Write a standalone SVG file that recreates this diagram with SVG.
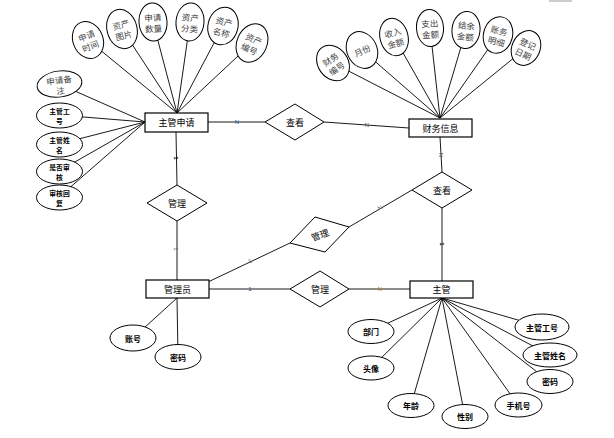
<svg xmlns="http://www.w3.org/2000/svg" width="614" height="438" viewBox="0 0 614 438">
<style>
.bg{fill:#fff}
.ln{stroke:#000;stroke-width:0.9;fill:none}
.box{fill:#fff;stroke:#000;stroke-width:1.2}
.dia{fill:#fff;stroke:#000;stroke-width:1}
.ell{fill:#fff;stroke:#000;stroke-width:1}
.t{font-family:"Noto Sans CJK SC","Liberation Sans",sans-serif;font-size:9px;fill:#000;text-anchor:middle;dominant-baseline:central}
.ts{font-family:"Noto Sans CJK SC","Liberation Sans",sans-serif;font-size:8.5px;fill:#444;text-anchor:middle;dominant-baseline:central}
.ta{font-family:"Noto Sans CJK SC","Liberation Sans",sans-serif;font-size:8px;fill:#000;text-anchor:middle;dominant-baseline:central;font-weight:bold}
.tl{font-family:"Noto Sans CJK SC","Liberation Sans",sans-serif;font-size:6.8px;fill:#000;text-anchor:middle;dominant-baseline:central;font-weight:bold}
.c{font-family:"Liberation Sans",sans-serif;font-size:6px;text-anchor:middle;dominant-baseline:central}
</style>
<rect class="bg" x="0" y="0" width="614" height="438"/>
<line x1="549" y1="1" x2="572" y2="1" stroke="#999" stroke-width="1"/>
<g id="connectors" class="ln">
  <line x1="177" y1="113" x2="88" y2="40"/>
  <line x1="177" y1="113" x2="122" y2="29"/>
  <line x1="177" y1="113" x2="153" y2="22"/>
  <line x1="177" y1="113" x2="190" y2="22"/>
  <line x1="177" y1="113" x2="223" y2="26"/>
  <line x1="177" y1="113" x2="252" y2="43"/>
  <line x1="145" y1="122" x2="59" y2="84"/>
  <line x1="145" y1="122" x2="59" y2="115"/>
  <line x1="145" y1="122" x2="59" y2="144"/>
  <line x1="145" y1="122" x2="59" y2="171"/>
  <line x1="145" y1="122" x2="59" y2="197"/>
  <line x1="440" y1="118" x2="333" y2="63"/>
  <line x1="440" y1="118" x2="362" y2="50"/>
  <line x1="440" y1="118" x2="394" y2="37"/>
  <line x1="440" y1="118" x2="430" y2="28"/>
  <line x1="440" y1="118" x2="466" y2="30"/>
  <line x1="440" y1="118" x2="498" y2="35"/>
  <line x1="440" y1="118" x2="526" y2="48"/>
  <line x1="177" y1="298" x2="133" y2="338"/>
  <line x1="177" y1="298" x2="178" y2="357"/>
  <line x1="442" y1="298" x2="371" y2="331"/>
  <line x1="442" y1="298" x2="371" y2="368"/>
  <line x1="442" y1="298" x2="411" y2="405"/>
  <line x1="442" y1="298" x2="465" y2="417"/>
  <line x1="442" y1="298" x2="518" y2="405"/>
  <line x1="442" y1="298" x2="550" y2="382"/>
  <line x1="442" y1="298" x2="550" y2="355"/>
  <line x1="442" y1="298" x2="542" y2="327"/>
  <line x1="208" y1="122" x2="265" y2="122"/>
  <line x1="324" y1="122" x2="409" y2="128"/>
  <line x1="440" y1="137" x2="442" y2="172"/>
  <line x1="442" y1="208" x2="442" y2="281"/>
  <line x1="349" y1="227" x2="412" y2="190"/>
  <line x1="290" y1="243" x2="208" y2="282"/>
  <line x1="176" y1="132" x2="177" y2="185"/>
  <line x1="177" y1="221" x2="177" y2="280"/>
  <line x1="209" y1="289" x2="290" y2="289"/>
  <line x1="349" y1="289" x2="410" y2="289"/>
</g>
<g id="cardinality">
  <text class="c" x="237" y="122" fill="#1f4e9a">N</text>
  <text class="c" x="367" y="125" fill="#555">N</text>
  <text class="c" transform="translate(441,155) rotate(90)" fill="#555">N</text>
  <text class="c" transform="translate(442,244) rotate(90)" fill="#000" font-weight="bold">1</text>
  <text class="c" transform="translate(176,158) rotate(90)" fill="#000" font-weight="bold">1</text>
  <text class="c" transform="translate(176,249) rotate(90)" fill="#555">1</text>
  <text class="c" transform="translate(380,208) rotate(-30)" fill="#777">N</text>
  <text class="c" transform="translate(250,261) rotate(-25)" fill="#555">1</text>
  <text class="c" x="250" y="289" fill="#1f4e9a">1</text>
  <text class="c" x="380" y="289" fill="#c07000">N</text>
</g>
<g id="zhuguanshenqing"><rect class="box" x="145" y="113" width="63" height="19"/><text class="t" x="176.5" y="122.5">主管申请</text></g>
<g id="caiwuxinxi"><rect class="box" x="409" y="119" width="63" height="18"/><text class="t" x="440.5" y="128">财务信息</text></g>
<g id="guanliyuan"><rect class="box" x="146" y="280" width="63" height="18"/><text class="t" x="177.5" y="289">管理员</text></g>
<g id="zhuguan"><rect class="box" x="410" y="281" width="63" height="17"/><text class="t" x="441.5" y="289.5">主管</text></g>
<g id="chakan1"><polygon class="dia" points="265,122 295,104 324,122 295,140"/><text class="t" x="295" y="122">查看</text></g>
<g id="chakan2"><polygon class="dia" points="412,190 442,172 472,190 442,208"/><text class="t" x="442" y="190">查看</text></g>
<g id="guanli1"><polygon class="dia" points="147,203 177,185 207,203 177,221"/><text class="t" x="177" y="203">管理</text></g>
<g id="guanli2"><polygon class="dia" points="290,289 320,271 349,289 320,307"/><text class="t" x="320" y="289">管理</text></g>
<g id="guanli3"><polygon class="dia" points="290,243 315,217 349,227 325,252" stroke="#222"/><text class="t" transform="translate(320,235) rotate(-20)" fill="#777">管理</text></g>
<g id="a-sqsj" transform="translate(88,40) rotate(-22)"><ellipse class="ell" rx="15" ry="19"/><text class="ts" y="-5">申请</text><text class="ts" y="6">时间</text></g>
<g id="a-zctp" transform="translate(122,29) rotate(-15)"><ellipse class="ell" rx="15" ry="20"/><text class="ts" y="-5">资产</text><text class="ts" y="6">图片</text></g>
<g id="a-sqsl" transform="translate(153,22) rotate(-4)"><ellipse class="ell" rx="14" ry="19"/><text class="ts" y="-5">申请</text><text class="ts" y="6">数量</text></g>
<g id="a-zcfl" transform="translate(190,22) rotate(5)"><ellipse class="ell" rx="14" ry="19"/><text class="ts" y="-5">资产</text><text class="ts" y="6">分类</text></g>
<g id="a-zcmc" transform="translate(223,26) rotate(14)"><ellipse class="ell" rx="15" ry="19"/><text class="ts" y="-5">资产</text><text class="ts" y="6">名称</text></g>
<g id="a-zcbh" transform="translate(252,43) rotate(24)"><ellipse class="ell" rx="15" ry="20"/><text class="ts" y="-5">资产</text><text class="ts" y="6">编号</text></g>
<g id="a-sqbz" transform="translate(59.5,84) rotate(-8)"><ellipse class="ell" rx="22.5" ry="13"/><text class="ts" y="-4.5">申请备</text><text class="ts" y="6">注</text></g>
<g id="a-zggh1"><ellipse class="ell" cx="59.5" cy="115.5" rx="23" ry="12.5"/><text class="tl" x="59.5" y="110.5">主管工</text><text class="tl" x="59.5" y="120.5">号</text></g>
<g id="a-zgxm1"><ellipse class="ell" cx="59.5" cy="144.5" rx="23" ry="12.5"/><text class="tl" x="59.5" y="139.5">主管姓</text><text class="tl" x="59.5" y="149.5">名</text></g>
<g id="a-sfsh"><ellipse class="ell" cx="59.5" cy="171.5" rx="23" ry="12.5"/><text class="tl" x="59.5" y="166.5">是否审</text><text class="tl" x="59.5" y="176.5">核</text></g>
<g id="a-shhf"><ellipse class="ell" cx="59.5" cy="197.5" rx="23" ry="12.5"/><text class="tl" x="59.5" y="192.5">审核回</text><text class="tl" x="59.5" y="202.5">复</text></g>
<g id="a-cwbh" transform="translate(333,63) rotate(-35)"><ellipse class="ell" rx="15" ry="19"/><text class="ts" y="-5">财务</text><text class="ts" y="6">编号</text></g>
<g id="a-yf" transform="translate(362,50) rotate(-25)"><ellipse class="ell" rx="15" ry="19"/><text class="ts" y="0">月份</text></g>
<g id="a-srje" transform="translate(394,37) rotate(-15)"><ellipse class="ell" rx="14" ry="19"/><text class="ts" y="-5">收入</text><text class="ts" y="6">金额</text></g>
<g id="a-zcje" transform="translate(430,28) rotate(-4)"><ellipse class="ell" rx="13.5" ry="18.5"/><text class="ts" y="-5">支出</text><text class="ts" y="6">金额</text></g>
<g id="a-jyje" transform="translate(466,30) rotate(6)"><ellipse class="ell" rx="14" ry="18.5"/><text class="ts" y="-5">结余</text><text class="ts" y="6">金额</text></g>
<g id="a-zwmx" transform="translate(498,35) rotate(15)"><ellipse class="ell" rx="14.5" ry="18.5"/><text class="ts" y="-5">账务</text><text class="ts" y="6">明细</text></g>
<g id="a-djrq" transform="translate(526,48) rotate(25)"><ellipse class="ell" rx="14" ry="18"/><text class="ts" y="-5">登记</text><text class="ts" y="6">日期</text></g>
<g id="a-zh"><ellipse class="ell" cx="133" cy="338" rx="23" ry="13"/><text class="ta" x="133" y="338">账号</text></g>
<g id="a-mm1"><ellipse class="ell" cx="178" cy="357" rx="23" ry="12.5"/><text class="ta" x="178" y="357">密码</text></g>
<g id="a-bm"><ellipse class="ell" cx="371" cy="331.5" rx="23" ry="12"/><text class="ta" x="371" y="331.5">部门</text></g>
<g id="a-tx"><ellipse class="ell" cx="371" cy="368" rx="23" ry="12"/><text class="ta" x="371" y="368">头像</text></g>
<g id="a-nl"><ellipse class="ell" cx="411" cy="405.5" rx="23" ry="12"/><text class="ta" x="411" y="405.5">年龄</text></g>
<g id="a-xb"><ellipse class="ell" cx="465" cy="416.5" rx="23" ry="12"/><text class="ta" x="465" y="416.5">性别</text></g>
<g id="a-sjh"><ellipse class="ell" cx="518.5" cy="405" rx="23.5" ry="12"/><text class="ta" x="518.5" y="405">手机号</text></g>
<g id="a-mm2"><ellipse class="ell" cx="550" cy="381.5" rx="23" ry="12"/><text class="ta" x="550" y="381.5">密码</text></g>
<g id="a-zgxm2"><ellipse class="ell" cx="550" cy="355" rx="27" ry="12"/><text class="ta" x="550" y="355">主管姓名</text></g>
<g id="a-zggh2"><ellipse class="ell" cx="542" cy="327" rx="27" ry="13"/><text class="ta" x="542" y="327">主管工号</text></g>
</svg>
